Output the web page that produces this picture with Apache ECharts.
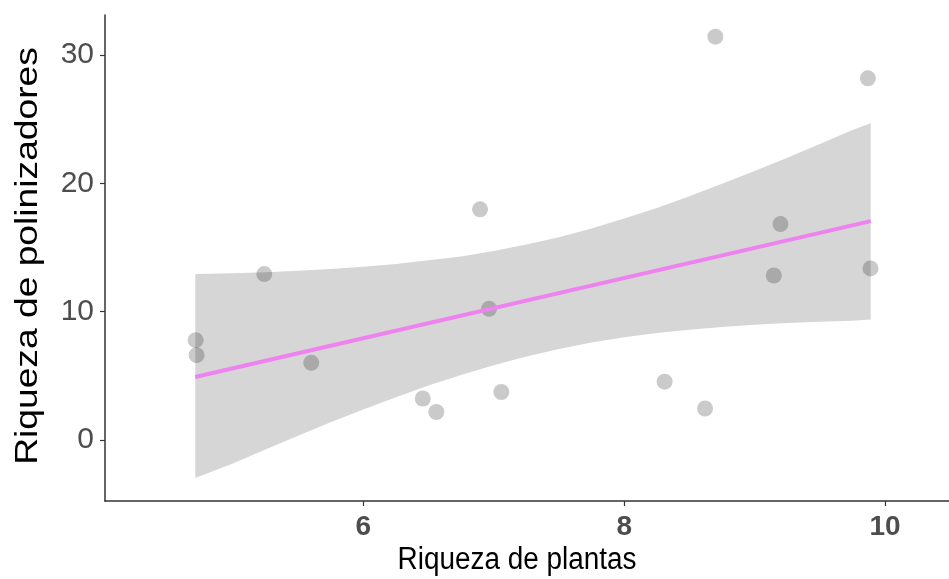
<!DOCTYPE html>
<html>
<head>
<meta charset="utf-8">
<script src="https://cdn.jsdelivr.net/npm/echarts@6/dist/echarts.min.js"></script>
<style>html,body{margin:0;padding:0;background:#fff}#c{width:949px;height:579px}</style>
</head>
<body>
<div id="c"></div>
<script>
// Observed points: plant richness (x) vs pollinator richness (y)
const plantRichness = [4.715, 4.722, 5.241, 5.601, 6.456, 6.560, 6.895, 6.964, 7.058, 8.310, 8.620, 8.699, 9.147, 9.198, 9.868, 9.888];
const pollinatorRichness = [7.78, 6.61, 12.93, 6.01, 3.23, 2.18, 17.98, 10.22, 3.74, 4.54, 2.45, 31.44, 12.82, 16.83, 28.19, 13.37];

// Fitted line end points
const fitX = [4.712, 9.89];
const fitY = [4.91, 17.06];

// Confidence ribbon
const ribbonX = [4.712, 5.0, 5.25, 5.5, 5.75, 6.0, 6.25, 6.5, 6.75, 7.0, 7.25, 7.5, 7.75, 8.0, 8.25, 8.5, 8.75, 9.0, 9.25, 9.5, 9.75, 9.89];
const ribbonUpper = [12.93, 13.0, 13.08, 13.2, 13.33, 13.5, 13.71, 14.0, 14.31, 14.73, 15.23, 15.81, 16.49, 17.26, 18.09, 19.0, 19.97, 20.96, 22.01, 23.08, 24.16, 24.7];
const ribbonLower = [-2.96, -1.83, -0.74, 0.33, 1.37, 2.37, 3.33, 4.24, 5.07, 5.83, 6.51, 7.09, 7.59, 8.0, 8.33, 8.6, 8.81, 8.98, 9.11, 9.22, 9.3, 9.4];

const xTicks = [6, 8, 10];
const yTicks = [0, 10, 20, 30];

const xTitle = 'Riqueza de plantas';
const yTitle = 'Riqueza de polinizadores';

const chart = echarts.init(document.getElementById('c'));

const ribbonData = ribbonX.map((x, i) => [x, ribbonLower[i], ribbonUpper[i]]);

chart.setOption({
  animation: false,
  grid: { left: 105, right: 0, top: 15, bottom: 78 },
  graphic: [
    {
      type: 'text', x: 517, y: 560, scaleX: 0.9,
      style: { text: xTitle, font: '31px "Liberation Sans", Arial, sans-serif', fill: '#000', align: 'center', verticalAlign: 'middle' }
    },
    {
      type: 'text', x: 28, y: 256, rotation: Math.PI / 2, scaleX: 1.2,
      style: { text: yTitle, font: '31px "Liberation Sans", Arial, sans-serif', fill: '#000', align: 'center', verticalAlign: 'middle' }
    }
  ],
  xAxis: {
    type: 'value', min: 4.02, max: 10.49,
    axisLine: { show: true, onZero: false, lineStyle: { color: '#333', width: 1.5 } },
    axisTick: { show: true, length: 5, lineStyle: { color: '#333', width: 1.2 }, customValues: xTicks },
    axisLabel: { customValues: xTicks, margin: 12, fontFamily: 'Liberation Sans, Arial', fontSize: 28, fontWeight: 'bold', color: '#4d4d4d' },
    splitLine: { show: false }
  },
  yAxis: {
    type: 'value', min: -4.76, max: 33.13,
    axisLine: { show: true, onZero: false, lineStyle: { color: '#333', width: 1.5 } },
    axisTick: { show: true, length: 5, lineStyle: { color: '#333', width: 1.2 }, customValues: yTicks },
    axisLabel: { customValues: yTicks, margin: 11, fontFamily: 'Liberation Sans, Arial', fontSize: 30, color: '#4d4d4d' },
    splitLine: { show: false }
  },
  series: [
    {
      type: 'custom',
      z: 1,
      data: ribbonData,
      encode: { x: 0, y: [1, 2] },
      renderItem: function (params, api) {
        if (params.dataIndex !== 0) return null;
        const pts = [];
        ribbonData.forEach(d => pts.push(api.coord([d[0], d[2]])));
        for (let i = ribbonData.length - 1; i >= 0; i--) pts.push(api.coord([ribbonData[i][0], ribbonData[i][1]]));
        return { type: 'polygon', shape: { points: pts }, style: { fill: '#d6d6d6', stroke: null } };
      }
    },
    {
      type: 'scatter',
      z: 2,
      symbolSize: 16,
      data: plantRichness.map((x, i) => [x, pollinatorRichness[i]]),
      itemStyle: { color: 'rgba(0,0,0,0.26)' }
    },
    {
      type: 'line',
      z: 3,
      showSymbol: false,
      data: fitX.map((x, i) => [x, fitY[i]]),
      lineStyle: { color: '#ee82ee', width: 4 }
    }
  ]
});
</script>
</body>
</html>
